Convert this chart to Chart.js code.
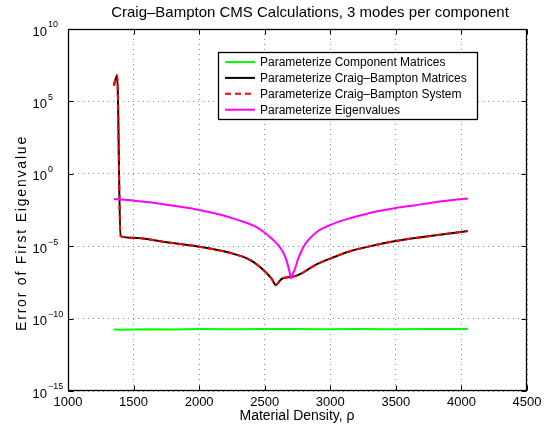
<!DOCTYPE html>
<html>
<head>
<meta charset="utf-8">
<script src="https://cdn.jsdelivr.net/npm/chart.js@4.4.1/dist/chart.umd.min.js"></script>
<style>
  html, body { margin: 0; background: #fff; }
  #wrap { width: 555px; height: 430px; }
</style>
</head>
<body>
<div id="wrap"><canvas id="myChart"></canvas></div>
<script>
// material density sweep, error of the first eigenvalue per method
const rhoComponent = [1350, 1400, 1600, 1800, 2000, 2250, 2500, 2700, 2950, 3200, 3450, 3750, 4050];
const errComponent = [1.8e-11, 1.7e-11, 1.85e-11, 1.8e-11, 1.9e-11, 1.85e-11, 1.9e-11, 1.9e-11, 1.85e-11, 1.9e-11, 1.85e-11, 1.9e-11, 1.9e-11];

const rhoCB = [1350, 1375, 1400, 1500, 1750, 2000, 2235, 2390, 2490, 2555, 2585, 2600, 2630, 2680, 2720, 2785, 2885, 3000, 3150, 3380, 3500, 3760, 4050];
const errCBMatrices = [1.26e6, 6.3e6, 5.0e-5, 3.8e-5, 1.9e-5, 9.3e-6, 3.5e-6, 1.1e-6, 2.3e-7, 5.4e-8, 2.0e-8, 2.8e-8, 5.6e-8, 7.1e-8, 7.9e-8, 1.4e-7, 5.0e-7, 1.4e-6, 4.5e-6, 1.4e-5, 2.3e-5, 5.0e-5, 1.12e-4];
const errCBSystem = [1.26e6, 6.3e6, 5.0e-5, 3.8e-5, 1.9e-5, 9.3e-6, 3.5e-6, 1.1e-6, 2.3e-7, 5.4e-8, 2.0e-8, 2.8e-8, 5.6e-8, 7.1e-8, 7.9e-8, 1.4e-7, 5.0e-7, 1.4e-6, 4.5e-6, 1.4e-5, 2.3e-5, 5.0e-5, 1.12e-4];

const rhoEig = [1350, 1500, 1650, 1800, 2000, 2150, 2300, 2420, 2490, 2565, 2610, 2645, 2670, 2690, 2700,
                2715, 2735, 2750, 2770, 2795, 2830, 2900, 3000, 3120, 3250, 3380, 3500, 3650, 3800, 4050];
const errEig = [1.8e-2, 1.4e-2, 1.0e-2, 6.3e-3, 3.2e-3, 1.6e-3, 6.3e-4, 2.5e-4, 1.0e-4, 2.7e-5, 1.0e-5, 3.2e-6, 7.9e-7, 1.6e-7, 6.0e-8,
                1.26e-7, 3.5e-7, 1.0e-6, 2.8e-6, 8.9e-6, 2.5e-5, 1.0e-4, 2.9e-4, 7.1e-4, 1.5e-3, 2.8e-3, 4.4e-3, 6.8e-3, 1.1e-2, 2.0e-2];

const seriesLabels = [
    'Parameterize Component Matrices',
    'Parameterize Craig\u2013Bampton Matrices',
    'Parameterize Craig\u2013Bampton System',
    'Parameterize Eigenvalues'
];

const xTicks = [1000, 1500, 2000, 2500, 3000, 3500, 4000, 4500];
const yExponents = [-15, -10, -5, 0, 5, 10];

const titleText = 'Craig\u2013Bampton CMS Calculations, 3 modes per component';
const xLabel = 'Material Density, \u03c1';
const yLabel = 'Error of First Eigenvalue';

const FONT = '"Liberation Sans", Arial, Helvetica, sans-serif';

function pts(xs, ys) {
    return xs.map((x, i) => ({ x: x, y: ys[i] }));
}

// axes box, inward ticks, tick labels, titles and the legend box
const matlabFrame = {
    id: 'matlabFrame',
    afterDraw(chart) {
        const ctx = chart.ctx;
        const a = chart.chartArea;
        const xs = chart.scales.x;
        const ys = chart.scales.y;
        const L = Math.round(a.left) + 0.5, R = Math.round(a.right) - 0.5;
        const T = Math.round(a.top) + 0.5, B = Math.round(a.bottom) - 0.5;
        ctx.save();

        // ticks
        ctx.strokeStyle = '#000';
        ctx.lineWidth = 1;
        ctx.beginPath();
        xTicks.forEach(v => {
            const px = Math.round(xs.getPixelForValue(v)) + 0.5;
            ctx.moveTo(px, B); ctx.lineTo(px, B - 5);
            ctx.moveTo(px, T); ctx.lineTo(px, T + 5);
        });
        yExponents.forEach(e => {
            const py = Math.round(ys.getPixelForValue(Math.pow(10, e))) + 0.5;
            ctx.moveTo(L, py); ctx.lineTo(L + 5, py);
            ctx.moveTo(R, py); ctx.lineTo(R - 5, py);
        });
        ctx.stroke();

        // box
        ctx.lineWidth = 1.3;
        ctx.strokeRect(L, T, R - L, B - T);

        // x tick labels
        ctx.fillStyle = '#000';
        ctx.font = '13px ' + FONT;
        ctx.textAlign = 'center';
        ctx.textBaseline = 'middle';
        xTicks.forEach(v => {
            ctx.fillText(String(v), xs.getPixelForValue(v), a.bottom + 11);
        });

        // y tick labels, 10 with a raised exponent
        yExponents.forEach(e => {
            const py = ys.getPixelForValue(Math.pow(10, e));
            ctx.font = '13px ' + FONT;
            ctx.textAlign = 'right';
            ctx.fillText('10', 47, py + 3);
            ctx.font = '9px ' + FONT;
            ctx.textAlign = 'left';
            ctx.fillText(String(e).replace('-', '\u2212'), 48, py - 4);
        });

        // title and axis labels
        ctx.textAlign = 'center';
        ctx.font = '15px ' + FONT;
        ctx.fillText(titleText, 310, 13);
        ctx.font = '14px ' + FONT;
        ctx.fillText(xLabel, 297, 416);
        ctx.save();
        ctx.translate(22, 233);
        ctx.rotate(-Math.PI / 2);
        ctx.letterSpacing = '1.8px';
        ctx.fillText(yLabel, 0, 0);
        ctx.restore();

        // legend
        const bx = 218.5, by = 52.5, bw = 259, bh = 67;
        ctx.fillStyle = '#fff';
        ctx.fillRect(bx, by, bw, bh);
        ctx.strokeStyle = '#000';
        ctx.lineWidth = 1.3;
        ctx.strokeRect(bx, by, bw, bh);
        ctx.font = '12px ' + FONT;
        ctx.textAlign = 'left';
        chart.data.datasets.forEach((ds, i) => {
            const ry = 62 + i * 15.9;
            ctx.beginPath();
            ctx.strokeStyle = ds.borderColor;
            ctx.lineWidth = 2;
            ctx.setLineDash(ds.borderDash || []);
            ctx.moveTo(225, ry);
            ctx.lineTo(255, ry);
            ctx.stroke();
            ctx.setLineDash([]);
            ctx.fillStyle = '#000';
            ctx.fillText(ds.label, 260, ry + 0.5);
        });
        ctx.restore();
    }
};

new Chart(document.getElementById('myChart'), {
    type: 'line',
    data: {
        datasets: [
            {
                label: seriesLabels[0],
                data: pts(rhoComponent, errComponent),
                borderColor: '#00ff00',
                borderWidth: 2,
                order: 4
            },
            {
                label: seriesLabels[1],
                data: pts(rhoCB, errCBMatrices),
                borderColor: '#000000',
                borderWidth: 2,
                cubicInterpolationMode: 'monotone',
                order: 3
            },
            {
                label: seriesLabels[2],
                data: pts(rhoCB, errCBSystem),
                borderColor: '#ff0000',
                borderWidth: 2,
                borderDash: [6, 4],
                cubicInterpolationMode: 'monotone',
                order: 2
            },
            {
                label: seriesLabels[3],
                data: pts(rhoEig, errEig),
                borderColor: '#ff00ff',
                borderWidth: 2,
                cubicInterpolationMode: 'monotone',
                order: 1
            }
        ]
    },
    options: {
        responsive: true,
        maintainAspectRatio: false,
        animation: false,
        devicePixelRatio: 1,
        layout: { padding: { left: 68, top: 29, right: 28, bottom: 39 } },
        elements: { point: { radius: 0 }, line: { fill: false } },
        plugins: {
            legend: { display: false },
            tooltip: { enabled: false },
            title: { display: false }
        },
        scales: {
            x: {
                type: 'linear',
                min: 1000,
                max: 4500,
                afterBuildTicks: s => { s.ticks = xTicks.map(v => ({ value: v })); },
                ticks: { display: false },
                grid: { drawTicks: false, color: 'rgba(0,0,0,0.45)', lineWidth: 1 },
                border: { display: false, dash: [1, 4] }
            },
            y: {
                type: 'logarithmic',
                min: 1e-15,
                max: 1e10,
                afterBuildTicks: s => { s.ticks = yExponents.map(e => ({ value: Math.pow(10, e) })); },
                ticks: { display: false },
                grid: { drawTicks: false, color: 'rgba(0,0,0,0.45)', lineWidth: 1 },
                border: { display: false, dash: [1, 4] }
            }
        }
    },
    plugins: [matlabFrame]
});
</script>
</body>
</html>
